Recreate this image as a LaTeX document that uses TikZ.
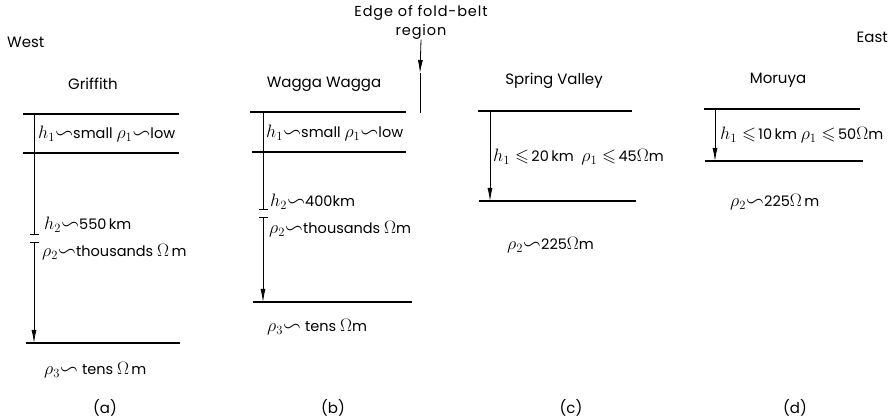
\RequirePackage{fix-cm}
\documentclass[tikz,border=0pt]{standalone}
\usepackage{amssymb}
\usepackage{graphicx}
\usepackage{fontspec}
\setmainfont{Poppins}
\newfontfamily\spacedfont[LetterSpace=6]{Poppins}
\usetikzlibrary{arrows.meta}
% larger math for the layer labels
\newcommand{\lm}[1]{{\fontsize{18}{20}\selectfont$#1$}}
\newcommand{\sw}{\mathord{\scalebox{1.3}[1.1]{$\backsim$}}}
\begin{document}
\begin{tikzpicture}[x=1pt, y=-1pt,
  surf/.style={line width=2.6pt},
  iface/.style={line width=1.7pt},
  dimline/.style={line width=0.8pt},
  downarrow/.style={dimline, -{Latex[length=13pt, width=5pt]}},
  tickend/.style={dimline, -{Bar[width=9pt]}},
  tickstart/.style={dimline, {Bar[width=9pt]}-{Latex[length=13pt, width=5pt]}},
  lbl/.style={anchor=west, inner sep=0pt, font=\fontsize{14.5}{16}\selectfont},
  ttl/.style={inner sep=0pt, font=\fontsize{15}{17}\selectfont}]
\useasboundingbox (0,0) rectangle (889,419);
% Compass labels
\node[ttl, anchor=west] (west) at (7,42) {West};
\node[ttl, anchor=east] (east) at (888,37) {East};
% Edge of the fold-belt region
\node[ttl, font=\fontsize{14.5}{16}\spacedfont] (edge) at (421,13) {Edge of fold-belt};
\node[ttl, font=\fontsize{14.5}{16}\spacedfont] (region) at (421,32) {region};
\coordinate (edgemid) at (420,73);
\coordinate (edgeend) at (420,113);
\draw[downarrow] (region.south) -- (edgemid);
\draw[dimline] (edgemid) -- (edgeend);

% (a) Griffith
\node[ttl] (griffith) at (93,84) {Griffith};
\coordinate (a1l) at (23,114); \coordinate (a1r) at (179,114);
\coordinate (a2l) at (23,153); \coordinate (a2r) at (179,153);
\coordinate (a3l) at (26,343); \coordinate (a3r) at (180,343);
\coordinate (a1) at (34,114); \coordinate (a2) at (34,153);
\coordinate (atk1) at (34,235); \coordinate (atk2) at (34,242);
\coordinate (a3) at (34,343);
\draw[surf] (a1l) -- (a1r);
\draw[iface] (a2l) -- (a2r);
\draw[iface] (a3l) -- (a3r);
\draw[dimline] (a1) -- (a2);
\draw[tickend] (a2) -- (atk1);
\draw[tickstart] (atk2) -- (a3);
\node[lbl] (ah1) at (38,134) {\lm{h_1\sw}small \lm{\rho_1\sw}low};
\node[lbl] (ah2) at (44,225) {\lm{h_2\sw}550\,km};
\node[lbl] (arho2) at (42,252) {\lm{\rho_2\sw}thousands \lm{\Omega}\,m};
\node[lbl] (arho3) at (44,370) {\lm{\rho_3\sw} tens \lm{\Omega}\,m};
\node[ttl] (capa) at (105,408) {(a)};

% (b) Wagga Wagga
\node[ttl] (wagga) at (324,84) {Wagga Wagga};
\coordinate (b1l) at (250,112); \coordinate (b1r) at (406,112);
\coordinate (b2l) at (252,152); \coordinate (b2r) at (406,152);
\coordinate (b3l) at (253,302); \coordinate (b3r) at (412,302);
\coordinate (b1) at (263,112); \coordinate (b2) at (263,152);
\coordinate (btk1) at (263,210); \coordinate (btk2) at (263,217);
\coordinate (b3) at (263,302);
\draw[surf] (b1l) -- (b1r);
\draw[iface] (b2l) -- (b2r);
\draw[iface] (b3l) -- (b3r);
\draw[dimline] (b1) -- (b2);
\draw[tickend] (b2) -- (btk1);
\draw[tickstart] (btk2) -- (b3);
\node[lbl] (bh1) at (266,133) {\lm{h_1\sw}small \lm{\rho_1\sw}low};
\node[lbl] (bh2) at (270,202) {\lm{h_2\sw}400km};
\node[lbl] (brho2) at (269,229) {\lm{\rho_2\sw}thousands \lm{\Omega}m};
\node[lbl] (brho3) at (267,327) {\lm{\rho_3\sw} tens \lm{\Omega}m};
\node[ttl] (capb) at (333,408) {(b)};

% (c) Spring Valley
\node[ttl] (spring) at (554,81) {Spring Valley};
\coordinate (c1l) at (478,111); \coordinate (c1r) at (632,111);
\coordinate (c2l) at (479,201); \coordinate (c2r) at (636,201);
\coordinate (c1) at (490,111); \coordinate (c2) at (490,201);
\draw[surf] (c1l) -- (c1r);
\draw[iface] (c2l) -- (c2r);
\draw[downarrow] (c1) -- (c2);
\node[lbl] (ch1) at (493,157) {\lm{h_1\leqslant}\,20\,km\ \ \lm{\rho_1\leqslant}\,45\lm{\Omega}m};
\node[lbl] (crho2) at (507,245) {\lm{\rho_2\sw}225\lm{\Omega}m};
\node[ttl] (capc) at (571,408) {(c)};

% (d) Moruya
\node[ttl] (moruya) at (778,80) {Moruya};
\coordinate (d1l) at (704,109); \coordinate (d1r) at (860,109);
\coordinate (d2l) at (705,161); \coordinate (d2r) at (863,161);
\coordinate (d1) at (715,109); \coordinate (d2) at (715,161);
\draw[surf] (d1l) -- (d1r);
\draw[iface] (d2l) -- (d2r);
\draw[downarrow] (d1) -- (d2);
\node[lbl] (dh1) at (720,135) {\lm{h_1\leqslant}\,10\,km\ \lm{\rho_1\leqslant}\,50\lm{\Omega}m};
\node[lbl] (drho2) at (730,202) {\lm{\rho_2\sw}225\lm{\Omega}\,m};
\node[ttl] (capd) at (795,408) {(d)};
\end{tikzpicture}
\end{document}
